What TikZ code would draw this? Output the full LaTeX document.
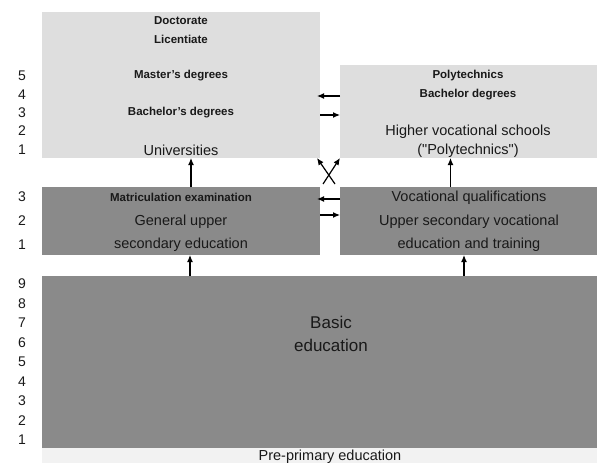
\documentclass[tikz,border=0pt]{standalone}
\usepackage{fontspec}
\setmainfont{Liberation Sans}
\usetikzlibrary{positioning, arrows.meta}
\definecolor{lightlevel}{RGB}{222,222,222}
\definecolor{darklevel}{RGB}{138,138,138}
\definecolor{prelevel}{RGB}{242,242,242}
\definecolor{labeltext}{RGB}{25,25,25}

\tikzset{
  level/.style={anchor=north west, inner sep=0pt, outer sep=0pt},
  uppertier/.style={level, fill=lightlevel},
  lowertier/.style={level, fill=darklevel},
  big/.style={font=\fontsize{14.5}{19}\selectfont, align=center, inner sep=0pt},
  bigwide/.style={font=\fontsize{14.5}{23.5}\selectfont, align=center, inner sep=0pt},
  small/.style={font=\fontsize{11.5}{18.5}\selectfont\bfseries, align=center, inner sep=0pt},
  year/.style={font=\fontsize{14}{14}\selectfont, inner sep=0pt},
  link/.style={-{Latex[length=7pt,width=6pt]}, line width=1.2pt}
}

\begin{document}
\begin{tikzpicture}[x=1pt, y=-1pt, text=labeltext]
    \useasboundingbox (0,0) rectangle (597,463);

    % levels
    \node[uppertier, minimum width=278pt, minimum height=146pt] (univ) at (42,12) {};
    \node[uppertier, minimum width=257pt, minimum height=93pt] (poly) at (340,65) {};
    \node[lowertier, minimum width=278pt, minimum height=68pt] (gen) at (42,187) {};
    \node[lowertier, minimum width=257pt, minimum height=68pt] (voc) at (340,187) {};
    \node[lowertier, minimum width=555pt, minimum height=172pt] (basic) at (42,276) {};
    \node[level, fill=prelevel, minimum width=555pt, minimum height=15pt] (pre) at (42,448) {};

    % texts
    \node[small] (doct) at (181,30) {Doctorate\\Licentiate};
    \node[small] (mast) at (181,76) {Master's degrees};
    \node[small] (bach) at (181,113) {Bachelor's degrees};
    \node[big] (unitext) at (181,150) {Universities};

    \node[small] (polytext) at (468,85) {Polytechnics\\Bachelor degrees};
    \node[big] (highvoc) at (468,141) {Higher vocational schools\\(\textquotedbl Polytechnics\textquotedbl)};

    \node[small] (matr) at (181,197) {Matriculation examination};
    \node[bigwide] (gentext) at (181,233) {General upper\\secondary education};
    \node[bigwide] (voctext) at (469,221.5) {Vocational qualifications\\Upper secondary vocational\\education and training};

    \node[font=\fontsize{17}{23}\selectfont, align=center, inner sep=0pt] (basictext) at (331,334) {Basic\\education};
    \node[big, anchor=base] (pretext) at (330,460) {Pre-primary education};

    % years
    \foreach \n [count=\i from 0] in {5,4,3,2,1}
        \node[year] (u\n) at (22,{76+18.3*\i}) {\n};
    \foreach \n [count=\i from 0] in {3,2,1}
        \node[year] (s\n) at (22,{197+24*\i}) {\n};
    \foreach \n [count=\i from 0] in {9,8,7,6,5,4,3,2,1}
        \node[year] (b\n) at (22,{284+19.5*\i}) {\n};

    % transitions
    \draw[link] ([yshift=-11pt]univ.east -| poly.west) -- ([xshift=-3pt,yshift=-11pt]univ.east);
    \draw[link] ([yshift=-30pt]univ.east) -- ([yshift=-30pt]univ.east -| poly.west);
    \draw[link] ([yshift=22pt]voc.west) -- ([xshift=-3pt,yshift=22pt]gen.east);
    \draw[link] ([yshift=6pt]gen.east) -- ([yshift=6pt]voc.west);

    \draw[link] ([xshift=10pt]gen.north) -- ([xshift=10pt]univ.south);
    \draw[link] ([xshift=-18pt]voc.north) -- ([xshift=-18pt]poly.south);
    \draw[link] ([xshift=3pt,yshift=3pt]gen.north east) -- (poly.south west);
    \draw[link] ([xshift=-5pt,yshift=3pt]voc.north west) -- ([xshift=-3pt]univ.south east);

    \draw[link] ([xshift=9pt]gen.south |- basic.north) -- ([xshift=9pt]gen.south);
    \draw[link] ([xshift=-4.5pt]voc.south |- basic.north) -- ([xshift=-4.5pt]voc.south);
\end{tikzpicture}
\end{document}
